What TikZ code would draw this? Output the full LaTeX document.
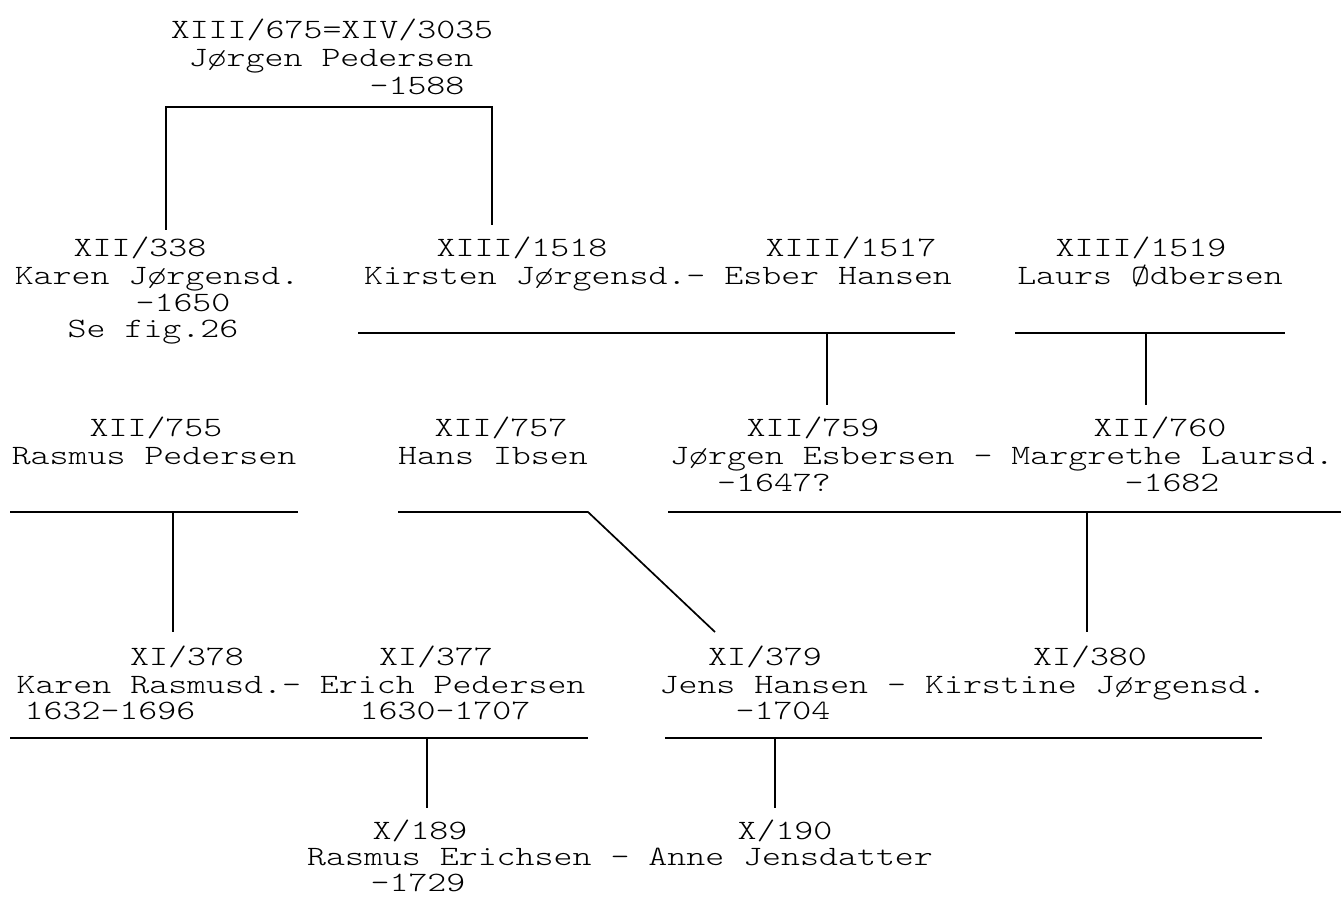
\documentclass[tikz,border=0pt]{standalone}
\usepackage{fontspec}
\newfontfamily\typewriter[FakeStretch=1.29]{Latin Modern Mono Light}
\usetikzlibrary{positioning}

\begin{document}
\begin{tikzpicture}[x=1pt,y=-1pt]
			\tikzstyle{every node}=[font=\typewriter\fontsize{28}{28}\selectfont, inner sep=0pt, anchor=base]
			\tikzstyle{bar}=[line width=1.7pt]
			\useasboundingbox (0,0) rectangle (1341,904);
			% generation XIII/XIV
			\node (j675a) at (332,39) {XIII/675=XIV/3035};
			\node (j675b) at (331,67) {Jørgen Pedersen};
			\node (j675c) at (417,95) {-1588};
			\draw [bar] (166,230) -- (166,107) -- (492,107) -- (492,225);
			% generation XII and XIII
			\node (k338a) at (140,256) {XII/338};
			\node (k338b) at (157,284) {Karen Jørgensd.};
			\node (k338c) at (183,311) {-1650};
			\node (k338d) at (153,337) {Se fig.26};
			\node (k1518a) at (522,256) {XIII/1518};
			\node (k1518b) at (658,284) {Kirsten Jørgensd.- Esber Hansen};
			\node (e1517a) at (851,256) {XIII/1517};
			\node (l1519a) at (1141,256) {XIII/1519};
			\node (l1519b) at (1150,284) {Laurs Ødbersen};
			\coordinate (esb) at (827,333);
			\coordinate (lau) at (1146,333);
			\draw [bar] (358,333) -- (955,333);
			\draw [bar] (esb) -- (827,405);
			\draw [bar] (1015,333) -- (1285,333);
			\draw [bar] (lau) -- (1146,405);
			% generation XII
			\node (r755a) at (156,436) {XII/755};
			\node (r755b) at (154,464) {Rasmus Pedersen};
			\node (h757a) at (501,436) {XII/757};
			\node (h757b) at (493,464) {Hans Ibsen};
			\node (j759a) at (813,436) {XII/759};
			\node (j759b) at (1002,464) {Jørgen Esbersen - Margrethe Laursd.};
			\node (j759c) at (774,491) {-1647?};
			\node (m760a) at (1160,436) {XII/760};
			\node (m760c) at (1172,491) {-1682};
			\coordinate (ras) at (173,512);
			\coordinate (han) at (588,512);
			\coordinate (jor) at (1087,512);
			\draw [bar] (10,512) -- (298,512);
			\draw [bar] (ras) -- (173,632);
			\draw [bar] (398,512) -- (han) -- (715,632);
			\draw [bar] (668,512) -- (1341,512);
			\draw [bar] (jor) -- (1087,632);
			% generation XI
			\node (k378a) at (187,665) {XI/378};
			\node (k378b) at (301,693) {Karen Rasmusd.- Erich Pedersen};
			\node (k378c) at (110,719) {1632-1696};
			\node (e377a) at (436,665) {XI/377};
			\node (e377c) at (445,719) {1630-1707};
			\node (j379a) at (765,665) {XI/379};
			\node (j379b) at (963,693) {Jens Hansen - Kirstine Jørgensd.};
			\node (j379c) at (783,719) {-1704};
			\node (k380a) at (1090,665) {XI/380};
			\coordinate (eri) at (427,738);
			\coordinate (jen) at (775,738);
			\draw [bar] (10,738) -- (588,738);
			\draw [bar] (eri) -- (427,808);
			\draw [bar] (665,738) -- (1262,738);
			\draw [bar] (jen) -- (775,808);
			% generation X
			\node (x189a) at (420,839) {X/189};
			\node (x189b) at (620,865) {Rasmus Erichsen - Anne Jensdatter};
			\node (x189c) at (418,891) {-1729};
			\node (x190a) at (785,839) {X/190};
		\end{tikzpicture}
\end{document}
